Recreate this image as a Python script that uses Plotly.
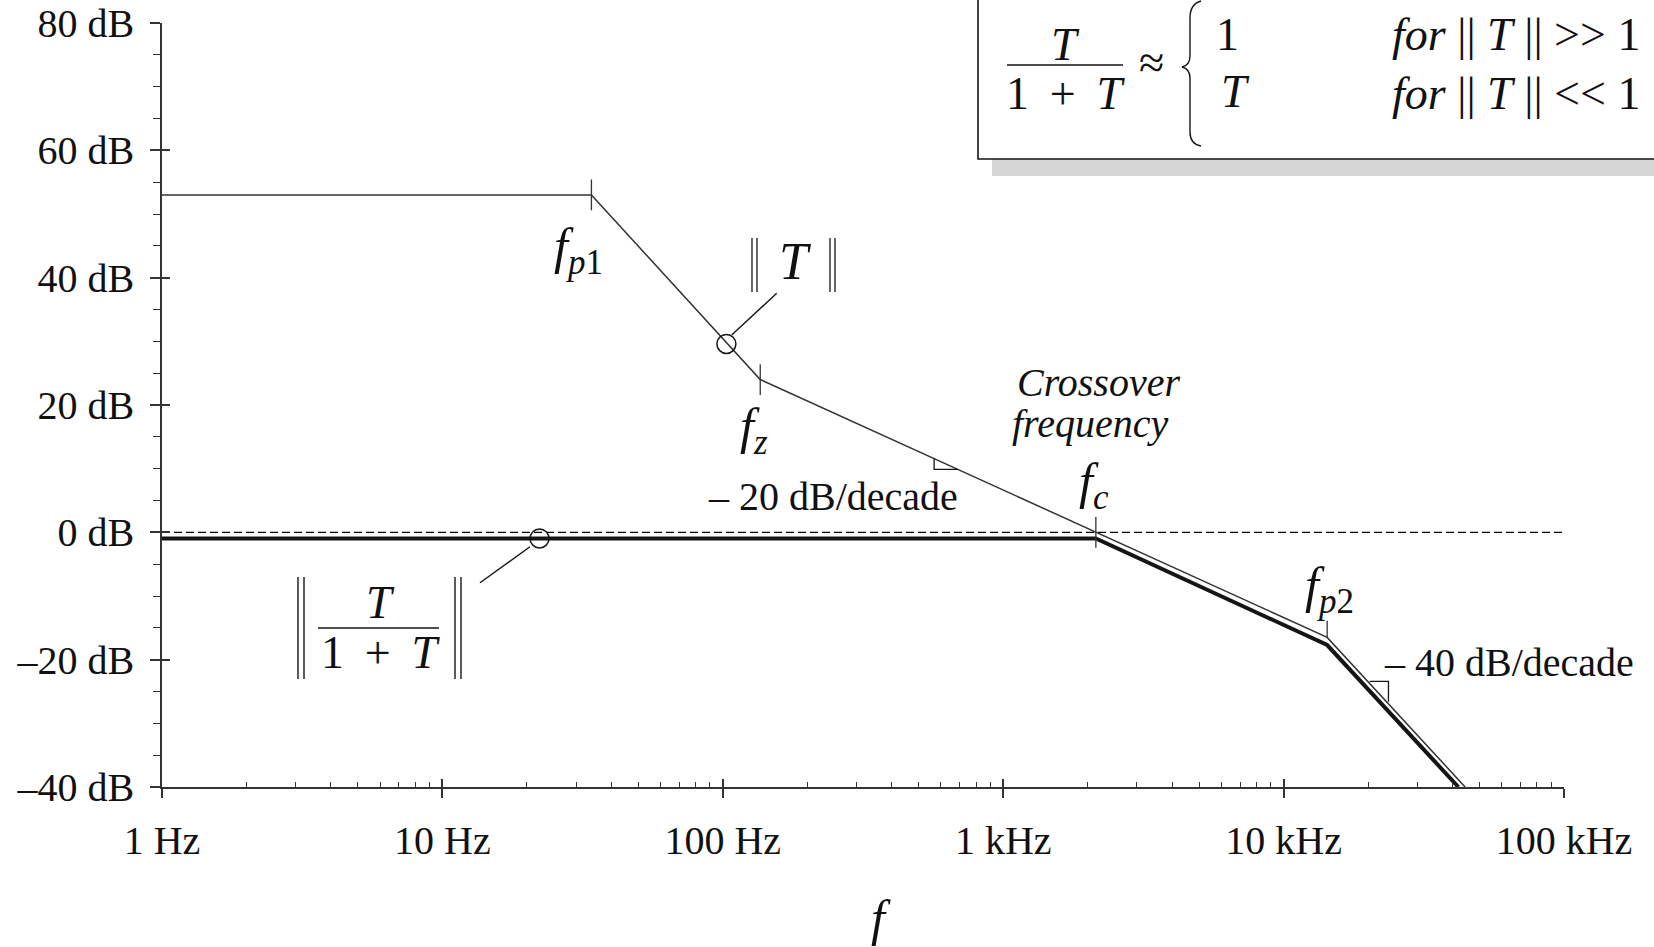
import plotly.graph_objects as go

# Loop gain ||T|| asymptotes: corner frequencies (Hz) and magnitudes (dB)
t_freq = [1, 34, 136, 2140, 14300, 44400]
t_db = [53, 53, 24, 0, -16.5, -40]

# Closed-loop ||T/(1+T)|| asymptotes
cl_freq = [1, 2140, 14300, 42000]
cl_db = [-0.95, -0.95, -17.7, -40]

# 0 dB reference
ref_freq = [1, 100000]
ref_db = [0, 0]

# Break-point ticks on ||T|| (fp1, fz, fc) and the fp2 tick
corner_freq = [34, 136, 2140]
corner_db = [53, 24, 0]
fp2_freq = [14300, 14300]
fp2_db = [-16.5, -13.9]

# Circled points that the curve labels point to
circle_freq = [103, 22.2]
circle_db = [29.6, -0.95]

# Slope triangles
slope20_freq = [567, 567, 687]
slope20_db = [11.6, 9.9, 9.9]
slope40_freq = [20270, 23660, 23660]
slope40_db = [-23.4, -23.4, -26.6]

x_tickvals = [1, 10, 100, 1000, 10000, 100000]
x_ticktext = ["1 Hz", "10 Hz", "100 Hz", "1 kHz", "10 kHz", "100 kHz"]
x_minor = [m * 10 ** d for d in range(5) for m in range(2, 10)]
y_tickvals = [-40, -20, 0, 20, 40, 60, 80]
y_ticktext = ["–40 dB", "–20 dB", "0 dB", "20 dB", "40 dB", "60 dB", "80 dB"]

# Page geometry
W, H = 1654, 947
ML, MR, MT, MB = 162, 90, 23, 160
PW, PH = W - ML - MR, H - MT - MB
INK = "#151515"
AX = "#333333"
FONT = "Liberation Serif"
SP = "\u2009"


def px(x, y):
    """Pixel position on the page -> paper coordinates."""
    return (x - ML) / PW, 1 - (y - MT) / PH


fig = go.Figure()

fig.add_trace(go.Scatter(x=ref_freq, y=ref_db, mode="lines",
                         line=dict(color="#000", width=1.3, dash="8px,4px"),
                         hoverinfo="skip"))
fig.add_trace(go.Scatter(x=cl_freq, y=cl_db, mode="lines",
                         line=dict(color=INK, width=4), hoverinfo="skip"))
fig.add_trace(go.Scatter(x=t_freq, y=t_db, mode="lines",
                         line=dict(color=AX, width=1.5), hoverinfo="skip"))
fig.add_trace(go.Scatter(x=corner_freq, y=corner_db, mode="markers",
                         marker=dict(symbol="line-ns", size=22, color=AX,
                                     line=dict(color=AX, width=1.3)),
                         hoverinfo="skip"))
fig.add_trace(go.Scatter(x=fp2_freq, y=fp2_db, mode="lines",
                         line=dict(color=AX, width=1.3), hoverinfo="skip"))
fig.add_trace(go.Scatter(x=circle_freq, y=circle_db, mode="markers",
                         marker=dict(symbol="circle-open", size=19, color=INK,
                                     line=dict(color=INK, width=1.5)),
                         hoverinfo="skip"))
for fx, fy in ((slope20_freq, slope20_db), (slope40_freq, slope40_db)):
    fig.add_trace(go.Scatter(x=fx, y=fy, mode="lines",
                             line=dict(color=INK, width=1.3), hoverinfo="skip"))

# Empty trace carrying the overlay axes that draw the inner half of major ticks
fig.add_trace(go.Scatter(x=[None], y=[None], xaxis="x2", yaxis="y2",
                         hoverinfo="skip"))

tickfont = dict(family=FONT, size=40, color="#111")

fig.update_layout(
    width=W, height=H,
    margin=dict(l=ML, r=MR, t=MT, b=MB, pad=0, autoexpand=False),
    paper_bgcolor="white", plot_bgcolor="white",
    showlegend=False,
    xaxis=dict(type="log", range=[0, 5], showgrid=False, zeroline=False,
               automargin=False,
               showline=True, linecolor=AX, linewidth=1.5,
               tickmode="array", tickvals=x_tickvals, ticktext=x_ticktext,
               ticks="outside", ticklen=9, tickwidth=1.5, tickcolor=AX,
               ticklabelstandoff=8, tickfont=tickfont,
               minor=dict(tickmode="array", tickvals=x_minor, ticks="inside",
                          ticklen=5, tickwidth=1.2, tickcolor=AX)),
    yaxis=dict(range=[-40, 80], showgrid=False, zeroline=False,
               automargin=False,
               showline=True, linecolor=AX, linewidth=1.5,
               tickmode="array", tickvals=y_tickvals, ticktext=y_ticktext,
               ticks="outside", ticklen=10, tickwidth=1.5, tickcolor=AX,
               ticklabelstandoff=8, tickfont=tickfont,
               minor=dict(dtick=5, tick0=0, ticks="outside", ticklen=7,
                          tickwidth=1.2, tickcolor=AX)),
    xaxis2=dict(type="log", range=[0, 5], overlaying="x", anchor="y",
                side="bottom", showgrid=False, zeroline=False, showline=False,
                automargin=False,
                tickmode="array", tickvals=x_tickvals, ticks="inside",
                ticklen=8, tickwidth=1.5, tickcolor=AX, showticklabels=False),
    yaxis2=dict(range=[-40, 80], overlaying="y", anchor="x", side="left",
                showgrid=False, zeroline=False, showline=False,
                automargin=False,
                tickmode="array", tickvals=y_tickvals, ticks="inside",
                ticklen=8, tickwidth=1.5, tickcolor=AX, showticklabels=False),
)

annotations = []


def label(text, x, y, size, xanchor="center"):
    xp, yp = px(x, y)
    annotations.append(dict(text=text, x=xp, y=yp, xref="paper", yref="paper",
                            xanchor=xanchor, yanchor="middle", showarrow=False,
                            font=dict(family=FONT, size=size, color="#111")))


shapes = []


def seg(x0, y0, x1, y1, width=1.4, color=INK):
    a, b = px(x0, y0)
    c, d = px(x1, y1)
    shapes.append(dict(type="line", xref="paper", yref="paper",
                       x0=a, y0=b, x1=c, y1=d,
                       line=dict(color=color, width=width)))


# Curve labels
label("<i>f</i><sub><i>p</i>1</sub>", 578, 250, 50)
label("<i>T</i>", 795, 261, 52)
for bx in (752, 757, 830, 835):
    seg(bx, 238, bx, 292, 1.3)
label("<i>f</i><sub><i>z</i></sub>", 754, 430, 50)
label("– 20 dB/decade", 833, 496, 40)
label("<i>Crossover</i>", 1015, 383, 40, "left")
label("<i>frequency</i>", 1010, 423, 40, "left")
label("<i>f</i><sub><i>c</i></sub>", 1094, 485, 50)
label("<i>f</i><sub><i>p</i>2</sub>", 1329, 589, 50)
label("– 40 dB/decade", 1382, 662, 40, "left")
label("<i>f</i>", 881, 918, 50)

# Callout leaders
seg(731.7, 335, 776.7, 293.3)
seg(530, 546.7, 480, 582.7)

# ||T/(1+T)|| label
label("<i>T</i>", 380, 602, 46)
label("1" + SP + " + " + SP + "<i>T</i>", 380, 652, 46)
seg(318, 628, 439, 628, 1.5)
for bx in (298, 304, 455, 461):
    seg(bx, 577, bx, 679, 1.4)

# Approximation box with drop shadow
s0 = px(992, 159)
s1 = px(1680, 176)
shapes.append(dict(type="rect", xref="paper", yref="paper",
                   x0=s0[0], y0=s0[1], x1=s1[0], y1=s1[1],
                   fillcolor="#d6d6d6", line=dict(width=0)))
b0 = px(978, -10)
b1 = px(1680, 159)
shapes.append(dict(type="rect", xref="paper", yref="paper",
                   x0=b0[0], y0=b0[1], x1=b1[0], y1=b1[1],
                   fillcolor="white", line=dict(color=INK, width=1.6)))

label("<i>T</i>", 1065, 44, 46)
label("1" + SP + " + " + SP + "<i>T</i>", 1065, 93, 46)
seg(1007, 65, 1123, 65, 1.5)
label("≈", 1151, 63, 46)
label("1", 1227, 34, 46)
label("<i>T</i>", 1235, 91, 46)
label("<i>for</i> || <i>T</i> || >> 1", 1390, 35, 46, "left")
label("<i>for</i> || <i>T</i> || << 1", 1390, 93, 46, "left")

# Brace
brace_pts = [("M", [(1201, 1)]),
             ("Q", [(1190, 4), (1190, 18)]),
             ("L", [(1190, 56)]),
             ("Q", [(1190, 65), (1182, 67)]),
             ("Q", [(1190, 69), (1190, 78)]),
             ("L", [(1190, 132)]),
             ("Q", [(1190, 144), (1201, 146)])]
path = ""
for cmd, pts in brace_pts:
    path += cmd + " " + " ".join("%.5f,%.5f" % px(x, y) for x, y in pts) + " "
shapes.append(dict(type="path", xref="paper", yref="paper", path=path.strip(),
                   line=dict(color=INK, width=1.4)))

fig.update_layout(annotations=annotations, shapes=shapes)

fig.write_html("out.html")
